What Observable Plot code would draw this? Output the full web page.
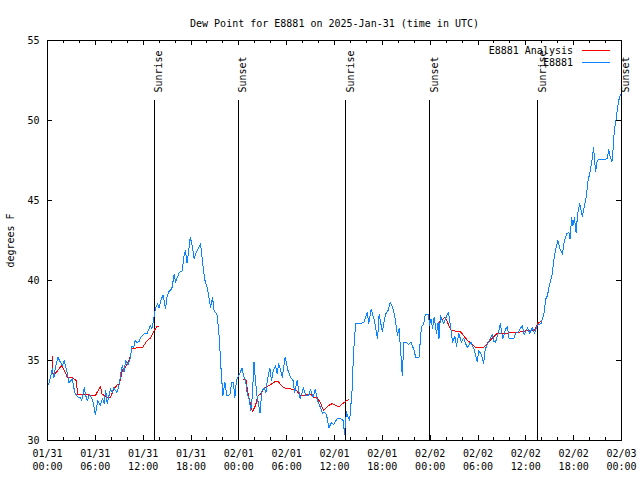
<!DOCTYPE html>
<html><head><meta charset="utf-8">
<script src="https://cdn.jsdelivr.net/npm/d3@7"></script>
<script src="https://cdn.jsdelivr.net/npm/@observablehq/plot@0.6"></script>
<style>html,body{margin:0;padding:0;background:#fff;} svg path, svg line {shape-rendering: crispEdges;}</style>
</head><body><div id="chart"></div>
<script>
const title = "Dew Point for E8881 on 2025-Jan-31 (time in UTC)";
const yLabel = "degrees F";
const startTime = "2025-01-31T00:00:00Z";
const endTime = "2025-02-03T00:00:00Z";

// Observations (hours after start, dew point °F)
const obsHours = [0.15,0.4,0.6,0.8,1.0,1.3,1.6,1.9,2.1,2.5,2.7,3.1,3.3,3.5,3.9,4.1,4.3,4.6,4.8,5.0,5.3,5.6,5.8,6.0,6.3,6.6,6.9,7.1,7.3,7.5,7.9,8.1,8.3,8.7,9.0,9.2,9.4,9.6,9.8,10.1,10.4,10.6,10.8,11.0,11.25,11.5,11.7,12.1,12.5,12.9,13.1,13.3,13.55,13.8,14.0,14.2,14.5,14.8,15.0,15.2,15.6,15.9,16.05,16.3,16.5,16.9,17.1,17.3,17.5,17.7,17.9,18.1,18.4,18.6,18.8,19.0,19.2,19.4,19.7,20.0,20.2,20.45,20.7,20.9,21.1,21.3,21.5,21.65,21.8,22.0,22.25,22.5,22.7,22.9,23.1,23.3,23.5,23.7,24.0,24.2,24.4,24.6,24.85,25.05,25.25,25.5,25.7,25.9,26.1,26.3,26.5,26.65,26.9,27.2,27.4,27.6,27.9,28.1,28.3,28.6,28.8,29.0,29.2,29.45,29.8,30.0,30.15,30.5,30.8,31.0,31.3,31.5,31.7,32.1,32.4,32.8,33.0,33.3,33.6,33.8,34.2,34.5,34.75,35.0,35.3,35.6,35.9,36.3,36.8,37.1,37.25,37.5,37.7,37.9,38.2,38.4,38.65,39.2,39.7,40.1,40.3,40.6,41.0,41.4,41.6,42.0,42.4,42.7,43.0,43.3,43.5,43.7,43.9,44.1,44.3,44.5,44.7,45.1,45.3,45.6,46.0,46.2,46.6,46.9,47.2,47.4,47.8,47.9,48.1,48.3,48.5,48.8,49.0,49.1,49.3,49.5,49.7,50.15,50.3,50.6,50.8,51.1,51.3,51.6,51.9,52.2,52.65,53.1,53.5,53.9,54.1,54.4,54.7,54.9,55.4,55.8,56.0,56.2,56.6,56.8,57.1,57.5,57.7,57.9,58.5,58.7,59.1,59.55,59.8,60.2,60.5,60.8,61.1,61.45,61.9,62.3,62.5,62.7,63.0,63.3,63.5,63.75,64.0,64.3,64.6,64.8,65.1,65.4,65.55,65.75,65.9,66.1,66.3,66.5,66.75,67.1,67.4,67.6,67.8,68.0,68.2,68.4,68.5,68.75,68.95,69.2,70.2,70.4,70.6,70.8,71.0,71.1,71.3,71.5,71.7,71.9];
const obsDew = [33.5,34.0,34.5,33.9,34.6,35.2,34.9,34.7,35.0,34.2,33.6,33.85,33.3,32.9,32.7,32.7,32.5,33.3,32.8,32.5,32.9,32.6,32.2,31.6,32.5,32.2,32.6,32.3,33.1,32.3,33.25,33.0,33.3,33.0,33.5,34.2,34.7,34.3,35.0,34.7,35.2,35.9,35.8,36.25,36.1,36.2,36.45,36.67,36.7,37.2,37.0,37.5,38.3,38.55,38.3,38.75,39.1,38.25,39.0,39.3,39.5,40.4,39.9,40.2,40.5,40.6,41.45,41.9,41.1,41.8,42.7,42.3,41.35,41.7,41.9,42.1,42.3,41.35,40.1,39.6,39.1,38.3,38.95,38.1,38.0,37.8,36.7,35.5,34.2,32.8,33.65,32.8,32.8,32.9,33.65,33.65,32.7,33.75,34.05,34.3,34.5,34.0,33.75,32.9,32.7,31.9,32.8,34.9,33.65,32.7,32.2,31.7,33.1,33.3,33.0,33.85,34.5,33.75,34.3,34.7,34.2,34.8,34.5,33.95,35.2,34.8,34.4,33.95,33.75,33.0,33.75,33.2,32.6,33.3,32.8,32.85,33.2,32.7,33.2,32.6,32.1,31.7,31.75,31.6,30.8,31.1,31.0,31.35,31.35,31.25,30.4,31.8,31.45,31.25,33.1,35.6,37.3,37.3,37.4,38.0,37.3,38.2,37.5,36.35,37.9,36.8,37.9,38.1,38.65,38.3,37.9,37.3,36.55,37.0,35.6,34.05,36.15,36.1,36.0,36.15,35.6,35.15,35.2,37.1,37.3,37.9,37.9,37.2,37.6,37.0,37.7,36.7,37.4,36.35,37.8,37.5,37.3,37.9,38.0,37.0,36.15,36.5,35.9,36.7,36.15,36.4,35.8,36.15,35.7,34.9,35.6,35.4,34.8,35.7,36.25,36.65,36.2,36.15,36.8,37.3,36.35,37.0,37.1,36.35,36.35,36.7,36.8,37.2,36.6,37.05,36.7,37.05,36.7,37.2,37.3,38.0,38.85,39.05,39.8,40.4,41.25,41.95,42.5,41.95,41.65,42.4,42.9,43.0,42.6,43.95,43.4,43.95,43.0,44.15,44.8,44.0,44.8,45.3,46.25,46.65,47.2,47.9,48.3,46.8,47.5,47.55,47.6,48.2,47.7,47.4,48.55,49.4,50.0,50.8,51.35,51.65];

// Analysis (hours after start, dew point °F); null marks a gap
const anaHours = [0.6,0.67,1.0,1.8,2.5,3.1,3.6,3.8,4.55,5.6,6.0,6.65,6.85,7.5,7.9,8.3,8.8,9.0,9.4,9.8,10.3,10.6,11.9,12.5,12.9,13.3,13.7,14.0,
  19.0,
  24.6,24.9,25.1,25.4,25.7,26.1,26.4,26.7,27.1,27.6,28.0,28.6,28.9,29.6,30.1,30.8,31.3,31.7,32.2,32.6,33.0,33.4,33.8,34.2,34.6,34.9,35.3,35.7,36.1,36.55,37.0,37.4,37.8,
  43.0,
  49.0,49.3,49.9,50.6,51.0,51.8,52.2,52.7,53.3,53.7,54.7,55.4,56.0,56.4,57.3,58.9,60.6,61.1,61.5,62.0];
const anaDew = [35.25,34.2,34.2,34.7,33.95,33.95,33.75,32.87,32.9,32.8,32.8,33.4,32.9,32.7,32.7,33.2,33.5,33.5,34.4,34.6,35.1,35.77,35.8,36.25,36.4,36.8,37.1,37.15,
  null,
  33.8,33.8,33.1,32.4,31.8,32.2,32.8,32.9,33.2,33.4,33.5,33.7,33.7,33.3,33.25,33.2,33.1,32.8,32.8,32.9,32.9,32.7,32.7,32.4,31.9,32.0,32.2,32.3,32.2,32.1,32.3,32.45,32.55,
  null,
  37.3,37.5,37.7,36.9,36.85,36.8,36.55,36.25,36.0,35.8,35.8,36.2,36.5,36.7,36.7,36.75,36.9,36.9,37.3,37.5];

const eventHours = [13.4, 23.9, 37.4, 47.97, 61.5, 71.98];
const eventLabels = ["Sunrise", "Sunset", "Sunrise", "Sunset", "Sunrise", "Sunset"];
const yTicks = [30, 35, 40, 45, 50, 55];
const seriesNames = ["E8881 Analysis", "E8881"];
const seriesColors = ["#ff0000", "#0a84ff"];

const FONT = "DejaVu Sans Mono";
const W = 640, H = 480, ML = 47, MR = 19, MT = 40, MB = 40;
const innerW = W - ML - MR, innerH = H - MT - MB;
const t0 = new Date(startTime);
const t1 = new Date(endTime);
const toTime = h => new Date(t0.getTime() + h * 3600e3);

const obs = obsHours.map((h, i) => ({time: toTime(h), dew: obsDew[i]}));
const ana = anaHours.map((h, i) => ({time: toTime(h), dew: anaDew[i]}));
const events = eventHours.map((h, i) => ({time: toTime(h), label: eventLabels[i]}));
const majorX = d3.utcHour.every(6).range(t0, new Date(t1.getTime() + 1));
const minorX = d3.utcHour.every(2).range(t0, new Date(t1.getTime() + 1));
const fmt = d3.utcFormat("%m/%d\n%H:%M");

const legend = (index, scales, values, dims) => {
  const g = d3.create("svg:g").attr("font-family", FONT).attr("font-size", 10);
  const xr = dims.width - dims.marginRight;
  seriesNames.forEach((name, i) => {
    const y = dims.marginTop + 10.5 + i * 12.7;
    g.append("text").attr("x", xr - 48).attr("y", y).attr("dy", "0.32em")
      .attr("text-anchor", "end").attr("fill", "black").text(name);
    g.append("line").attr("x1", xr - 39).attr("x2", xr - 11)
      .attr("y1", y - 0.5).attr("y2", y - 0.5).attr("stroke", seriesColors[i]).attr("stroke-width", 1);
  });
  return g.node();
};

const chart = Plot.plot({
  width: W,
  height: H,
  marginLeft: ML,
  marginRight: MR,
  marginTop: MT,
  marginBottom: MB,
  style: {fontFamily: FONT, fontSize: "10px", background: "white", color: "black"},
  x: {type: "utc", domain: [t0, t1]},
  y: {domain: [30, 55]},
  marks: [
    Plot.ruleX(events, {x: "time", insetTop: 60, stroke: "black", strokeWidth: 1}),
    Plot.text(events, {x: "time", text: "label", frameAnchor: "top", dy: 52, dx: 1, rotate: -90, textAnchor: "start", fill: "black"}),
    Plot.line(ana, {x: "time", y: "dew", stroke: seriesColors[0], strokeWidth: 1, curve: "linear"}),
    Plot.line(obs, {x: "time", y: "dew", stroke: seriesColors[1], strokeWidth: 1, curve: "linear"}),
    Plot.frame({stroke: "black"}),
    // inward ticks (gnuplot style, mirrored on all four sides)
    Plot.ruleX(majorX, {insetTop: innerH - 5, stroke: "black"}),
    Plot.ruleX(minorX, {insetTop: innerH - 3, stroke: "black"}),
    Plot.ruleX(majorX, {insetBottom: innerH - 5, stroke: "black"}),
    Plot.ruleX(minorX, {insetBottom: innerH - 3, stroke: "black"}),
    Plot.ruleY(yTicks, {insetRight: innerW - 5, stroke: "black"}),
    Plot.ruleY(yTicks, {insetLeft: innerW - 5, stroke: "black"}),
    Plot.axisX({ticks: majorX, tickSize: 0, tickPadding: 7, tickFormat: fmt, lineHeight: 1.3, label: null}),
    Plot.axisY({ticks: yTicks, tickSize: 0, tickPadding: 8, tickFormat: d => String(d), label: null}),
    Plot.text([title], {frameAnchor: "top", dy: -21, fill: "black"}),
    Plot.text([yLabel], {frameAnchor: "left", dx: -37, rotate: -90, textAnchor: "middle", fill: "black"}),
    legend
  ]
});
document.getElementById("chart").appendChild(chart);
</script>
</body></html>
